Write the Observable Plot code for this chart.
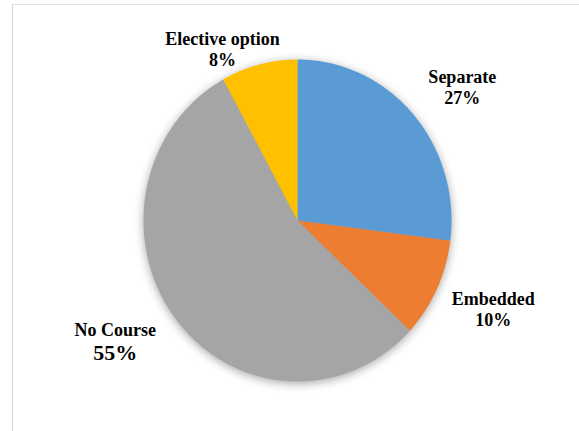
<!DOCTYPE html>
<html><head><meta charset="utf-8">
<script src="https://cdn.jsdelivr.net/npm/d3@7"></script>
<script src="https://cdn.jsdelivr.net/npm/@observablehq/plot@0.6"></script>
<style>
html,body{margin:0;padding:0;background:#fff;}
#wrap{position:relative;width:579px;height:431px;overflow:hidden;}
#frame{position:absolute;left:12px;top:4px;right:-10px;bottom:-10px;border-left:1px solid #d4d4d4;border-top:1.5px solid #e2e2e2;}
#chart{position:absolute;left:0;top:0;}
#chart g[aria-label="line"]{filter:drop-shadow(0px 2px 5px rgba(0,0,0,0.35));}
</style></head><body>
<div id="wrap"><div id="frame"></div><div id="chart"></div></div>
<script>
const categories = ["Separate","Embedded","No Course","Elective option"];
const percents = [27,10,55,8];
const colors = ["#5B9BD5","#ED7D31","#A5A5A5","#FFC000"];
// label layout: angle shift (deg) from slice middle, radial distance (pie radius = 1)
const labelAngleShift = [5,-0.4,4.2,-11];
const labelRadius = [1.33,1.40,1.42,1.135];
const labelPctSize = [18,18,22,18];

const pie = d3.pie().sort(null).value(d=>d)(percents);
const slices=[];
pie.forEach((p,i)=>{
  const n = Math.max(2, Math.ceil((p.endAngle-p.startAngle)/(Math.PI/360)));
  slices.push({name:categories[i],x:0,y:0});
  for(let k=0;k<=n;k++){
    const a=p.startAngle+(p.endAngle-p.startAngle)*k/n;
    slices.push({name:categories[i],x:Math.sin(a),y:Math.cos(a)});
  }
  slices.push({name:categories[i],x:0,y:0});
});
const labels = pie.map((p,i)=>{
  const a=(p.startAngle+p.endAngle)/2 + labelAngleShift[i]*Math.PI/180;
  return {name:categories[i], pct:percents[i]+"%", size:labelPctSize[i],
          x:labelRadius[i]*Math.sin(a), y:labelRadius[i]*Math.cos(a)};
});

const chart = Plot.plot({
  width:579, height:431, margin:0,
  x:{domain:[-1,1], range:[143,451], axis:null},
  y:{domain:[-1,1], range:[381,59], axis:null},
  color:{domain:categories, range:colors},
  style:{background:"transparent", fontFamily:"'Liberation Serif','Times New Roman',serif"},
  marks:[
    Plot.line(slices,{x:"x", y:"y", z:"name", fill:"name", stroke:"none", curve:"linear"}),
    Plot.text(labels,{x:"x", y:"y", text:"name", fontSize:18, fontWeight:"bold", lineAnchor:"middle", dy:-16.3, fill:"#000"}),
    Plot.text(labels,{x:"x", y:"y", text:"pct", fontSize:"size", fontWeight:"bold", lineAnchor:"top", dy:-2.3, fill:"#000"})
  ]
});
document.getElementById("chart").appendChild(chart);
</script>
</body></html>
